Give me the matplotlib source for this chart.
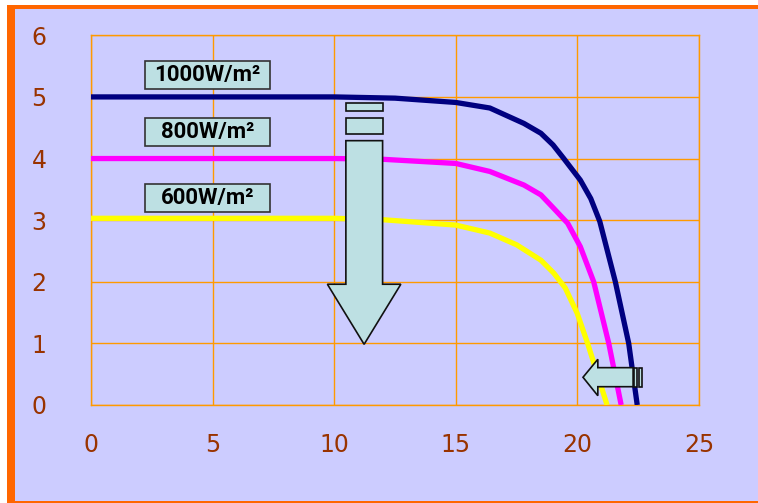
import matplotlib
matplotlib.use('Agg')
import matplotlib.pyplot as plt
from matplotlib.patches import Rectangle, Polygon

# I-V curves at three irradiance levels
x_1000 = [0, 10, 12.5, 15, 16.4, 17.8, 18.5, 19.0, 19.44, 20.12, 20.55, 20.92, 21.56, 22.11, 22.46]
y_1000 = [5.0, 5.0, 4.98, 4.91, 4.82, 4.57, 4.41, 4.22, 4.0, 3.65, 3.35, 2.98, 2.0, 1.0, 0]

x_800 = [0, 10, 11.9, 15, 16.4, 17.8, 18.5, 19.03, 19.6, 20.12, 20.67, 21.29, 21.8]
y_800 = [4.0, 4.0, 3.99, 3.92, 3.79, 3.57, 3.41, 3.19, 2.95, 2.57, 2.0, 1.0, 0]

x_600 = [0, 10, 11.9, 15, 16.4, 17.5, 18.5, 19.03, 19.5, 19.99, 20.42, 21.22]
y_600 = [3.03, 3.03, 3.01, 2.92, 2.79, 2.60, 2.35, 2.14, 1.9, 1.49, 1.0, 0]

labels = ['1000W/m²', '800W/m²', '600W/m²']
label_y = [5.36, 4.43, 3.36]
colors = ['#000080', '#FF00FF', '#FFFF00']

xticks = [0, 5, 10, 15, 20, 25]
yticks = [0, 1, 2, 3, 4, 5, 6]

lavender = '#CCCCFF'
grid_orange = '#FF9900'
tick_brown = '#993300'
arrow_fill = '#BDE0E3'

fig = plt.figure(figsize=(7.58, 5.03), dpi=100)
fig.patch.set_facecolor('white')

# slide frame, kept behind the axes
fig.add_artist(Rectangle((7 / 758, 0), 1, 498 / 503, transform=fig.transFigure,
                         facecolor='#FF6600', edgecolor='none', zorder=-10))
fig.add_artist(Rectangle((15 / 758, 2 / 503), 1, 492 / 503, transform=fig.transFigure,
                         facecolor=lavender, edgecolor='none', zorder=-9))

ax = fig.add_axes([91 / 758, 1 - 405 / 503, 608 / 758, (405 - 35.3) / 503])
ax.set_facecolor(lavender)
ax.set_xlim(0, 25)
ax.set_ylim(0, 6)
ax.set_xticks(xticks)
ax.set_yticks(yticks)
ax.grid(True, color=grid_orange, linewidth=1)
ax.set_axisbelow(True)
for s in ax.spines.values():
    s.set_color(grid_orange)
    s.set_linewidth(1)
ax.tick_params(length=0, labelcolor=tick_brown, labelsize=17)
ax.tick_params(axis='x', pad=20)
ax.tick_params(axis='y', pad=32)
for t in ax.get_xticklabels() + ax.get_yticklabels():
    t.set_family('DejaVu Sans')

for xs, ys, c in zip([x_1000, x_800, x_600], [y_1000, y_800, y_600], colors):
    ax.plot(xs, ys, color=c, linewidth=3.8, solid_capstyle='butt',
            solid_joinstyle='round', zorder=3)

# irradiance labels
for txt, ly in zip(labels, label_y):
    ax.add_patch(Rectangle((2.24, ly - 0.225), 5.1, 0.45, facecolor=arrow_fill,
                           edgecolor='#333333', linewidth=1.2, zorder=4))
    ax.text(4.79, ly, txt, ha='center', va='center', fontsize=16, fontweight='bold',
            family='Roboto', color='black', zorder=5)

# downward arrow for falling current
down = Polygon([(10.48, 4.29), (11.99, 4.29), (11.99, 1.96), (12.74, 1.96),
                (11.23, 0.985), (9.72, 1.96), (10.48, 1.96)], closed=True,
               facecolor=arrow_fill, edgecolor='#111111', linewidth=1.2, zorder=6)
ax.add_patch(down)
for y0, y1 in [(4.77, 4.90), (4.40, 4.65)]:
    ax.add_patch(Rectangle((10.48, y0), 1.51, y1 - y0, facecolor=arrow_fill,
                           edgecolor='#111111', linewidth=1.2, zorder=6))

# leftward arrow for voltage shift
left = Polygon([(22.29, 0.606), (20.84, 0.606), (20.84, 0.742), (20.23, 0.45),
                (20.84, 0.151), (20.84, 0.297), (22.29, 0.297)], closed=True,
               facecolor=arrow_fill, edgecolor='#111111', linewidth=1.2, zorder=6)
ax.add_patch(left)
for x0, x1 in [(22.33, 22.47), (22.54, 22.65)]:
    ax.add_patch(Rectangle((x0, 0.297), x1 - x0, 0.309, facecolor=arrow_fill,
                           edgecolor='#111111', linewidth=1.2, zorder=6))

fig.savefig('out.png', dpi=100, facecolor=fig.get_facecolor())
